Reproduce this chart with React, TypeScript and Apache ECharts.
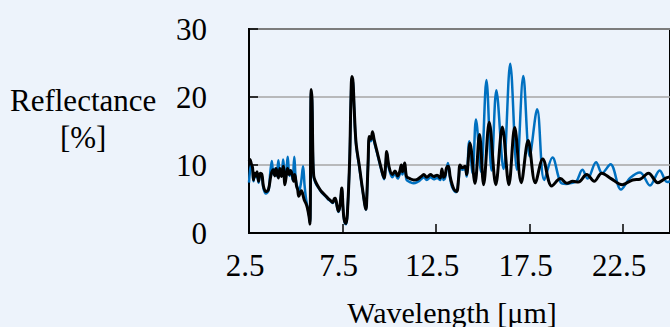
import React, { useEffect, useRef } from "react";
import * as echarts from "echarts";

// Wavelength [µm] vs reflectance [%]
const blackSpectrum: [number, number][] = [
  [2.5, 10.6], [2.55, 10.8], [2.62, 10.2], [2.69, 9.6], [2.74, 7.8], [2.8, 8.8], [2.87, 8.4], [2.93, 9.0],
  [3.01, 7.6], [3.1, 8.8], [3.19, 8.6], [3.27, 6.9], [3.4, 6.1], [3.54, 6.4], [3.68, 8.6], [3.8, 9.3],
  [3.88, 8.4], [3.95, 9.5], [4.07, 8.1], [4.15, 9.5], [4.24, 8.3], [4.33, 9.8], [4.42, 7.1], [4.5, 8.6],
  [4.56, 9.5], [4.65, 8.6], [4.72, 9.2], [4.8, 8.7], [4.89, 7.6], [4.95, 8.6], [5.04, 6.9], [5.1, 6.4],
  [5.16, 5.4], [5.3, 6.2], [5.45, 4.9], [5.55, 4.3], [5.62, 3.7], [5.71, 2.4], [5.76, 1.3], [5.82, 21.1],
  [5.87, 19.5], [5.91, 12], [5.96, 8.4], [6.05, 7.6], [6.2, 6.8], [6.37, 6.1], [6.55, 5.6], [6.72, 5.1],
  [6.85, 4.8], [6.98, 4.5], [7.05, 5.0], [7.11, 5.1], [7.21, 3.9], [7.28, 3.2], [7.36, 4.0], [7.46, 6.6],
  [7.52, 4.0], [7.56, 2.5], [7.62, 1.6], [7.69, 1.4], [7.76, 3.0], [7.88, 10.8], [7.95, 20], [8.0, 23],
  [8.06, 22.2], [8.12, 18.5], [8.22, 13.3], [8.4, 9.8], [8.57, 6.4], [8.75, 3.5], [8.8, 5.5], [8.87, 10.8],
  [8.93, 14.2], [9.02, 13.8], [9.1, 14.9], [9.19, 13.7], [9.36, 11.8], [9.54, 9.8], [9.72, 8.1], [9.8, 10],
  [9.86, 12.0], [9.98, 9.8], [10.16, 8.6], [10.3, 9.1], [10.45, 8.4], [10.55, 9.0], [10.64, 10.0], [10.7, 9.0],
  [10.82, 10.3], [10.92, 8.3], [11.1, 8.0], [11.3, 7.8], [11.5, 7.9], [11.7, 8.3], [11.84, 8.6], [12.0, 8.2],
  [12.2, 8.6], [12.37, 8.3], [12.55, 8.5], [12.72, 8.1], [12.81, 9.4], [12.9, 8.2], [12.98, 8.5], [13.06, 9.6],
  [13.16, 9.8], [13.25, 8.3], [13.35, 7.2], [13.46, 6.4], [13.6, 6.1], [13.7, 8.0], [13.78, 10.0], [13.9, 9.6],
  [14.05, 9.8], [14.13, 8.6], [14.31, 13.2], [14.58, 7.3], [14.82, 14.5], [15.04, 7.1], [15.34, 16.3],
  [15.69, 7.1], [16.04, 15.6], [16.39, 7.1], [16.7, 15.5], [17.05, 7.4], [17.42, 13.6], [17.8, 7.4],
  [18.2, 10.9], [18.68, 6.9], [19.15, 8.0], [19.5, 7.3], [19.8, 7.6], [20.1, 7.5], [20.55, 8.6], [20.95, 7.6],
  [21.35, 8.8], [21.85, 8.0], [22.45, 7.1], [23.0, 7.8], [23.4, 7.9], [23.85, 8.8], [24.35, 7.4], [24.8, 8.1],
  [25.2, 8.4],
];

const blueSpectrum: [number, number][] = [
  [2.5, 7.4], [2.55, 9.0], [2.62, 10.0], [2.69, 9.4], [2.74, 7.6], [2.8, 8.5], [2.87, 8.2], [2.93, 8.8],
  [3.01, 7.4], [3.1, 8.5], [3.19, 8.3], [3.27, 6.6], [3.4, 5.8], [3.54, 6.2], [3.64, 9.0], [3.72, 10.6],
  [3.8, 8.6], [3.9, 9.5], [3.98, 8.4], [4.07, 10.7], [4.15, 8.6], [4.25, 9.0], [4.33, 10.8], [4.42, 8.0],
  [4.5, 9.2], [4.57, 11.2], [4.66, 8.4], [4.75, 9.0], [4.83, 7.8], [4.92, 11.2], [5.0, 7.8], [5.08, 6.8],
  [5.16, 6.0], [5.28, 7.4], [5.39, 9.8], [5.47, 7.0], [5.55, 5.0], [5.62, 3.9], [5.71, 2.6], [5.76, 1.5],
  [5.82, 20.8], [5.87, 19.2], [5.91, 11.8], [5.96, 8.2], [6.05, 7.4], [6.2, 6.7], [6.37, 6.0], [6.55, 5.5],
  [6.72, 5.0], [6.85, 4.7], [6.98, 4.4], [7.05, 4.9], [7.11, 5.0], [7.21, 3.8], [7.28, 3.1], [7.36, 3.9],
  [7.46, 6.5], [7.52, 3.9], [7.56, 2.4], [7.62, 1.5], [7.69, 1.3], [7.76, 2.9], [7.88, 10.6], [7.95, 19.8],
  [8.0, 22.8], [8.06, 22.0], [8.12, 18.3], [8.22, 13.1], [8.4, 9.6], [8.57, 6.3], [8.75, 3.4], [8.8, 5.4],
  [8.87, 10.6], [8.93, 13.9], [9.02, 13.5], [9.1, 14.6], [9.19, 13.4], [9.36, 11.6], [9.54, 9.6], [9.72, 7.9],
  [9.8, 9.8], [9.86, 11.8], [9.98, 9.5], [10.16, 8.2], [10.3, 8.7], [10.45, 8.0], [10.55, 8.6], [10.64, 9.6],
  [10.7, 8.6], [10.82, 9.8], [10.92, 7.8], [11.1, 7.5], [11.3, 7.3], [11.5, 7.5], [11.7, 7.9], [11.84, 8.2],
  [12.0, 7.8], [12.2, 8.2], [12.37, 7.9], [12.55, 8.1], [12.72, 7.8], [12.81, 8.9], [12.9, 7.8], [12.98, 8.1],
  [13.13, 10.3], [13.25, 8.0], [13.35, 6.8], [13.57, 6.0], [13.7, 7.8], [13.78, 9.6], [13.9, 9.3], [14.05, 9.4],
  [14.13, 8.3], [14.27, 13.5], [14.45, 8.8], [14.63, 16.7], [14.9, 9.0], [15.19, 22.5], [15.46, 9.2],
  [15.72, 21.0], [16.1, 9.4], [16.46, 24.9], [16.82, 9.3], [17.16, 23.1], [17.5, 11.3], [17.9, 18.2],
  [18.28, 7.8], [18.72, 11.1], [19.16, 7.4], [19.45, 7.2], [19.78, 7.4], [20.0, 7.6], [20.32, 9.3], [20.6, 8.0],
  [21.05, 10.4], [21.37, 8.8], [21.82, 10.1], [22.38, 6.4], [22.87, 8.1], [23.4, 8.9], [23.93, 7.0],
  [24.45, 9.2], [24.85, 7.5], [25.2, 7.8],
];

const xMin = 2.5;
const xMax = 25;
const xStep = 5;
const yMin = 0;
const yMax = 30;
const yStep = 10;

const yTitleLines = ["Reflectance", "[%]"];
const xTitle = "Wavelength [μm]";

const BG = "#edf3fb";
const FONT = "'Liberation Serif', 'Times New Roman', serif";

export default function App() {
  const ref = useRef<HTMLDivElement>(null);

  useEffect(() => {
    if (!ref.current) return;
    const chart = echarts.init(ref.current, null, { renderer: "svg" });
    chart.setOption({
      animation: false,
      backgroundColor: BG,
      grid: {
        left: 249,
        top: 29,
        width: 424,
        height: 204,
        show: true,
        borderColor: "#000",
        borderWidth: 2,
        backgroundColor: BG,
      },
      xAxis: {
        type: "value",
        min: xMin,
        max: xMax,
        interval: xStep,
        axisLine: { show: true, lineStyle: { color: "#000", width: 2 } },
        axisTick: { show: true, inside: true, length: 9, lineStyle: { color: "#000", width: 1.5 } },
        splitLine: { show: false },
        axisLabel: {
          color: "#000",
          fontFamily: FONT,
          fontSize: 31,
          margin: 17,
          padding: [0, 8, 0, 0],
          showMaxLabel: false,
        },
      },
      yAxis: {
        type: "value",
        min: yMin,
        max: yMax,
        interval: yStep,
        axisLine: { show: true, lineStyle: { color: "#000", width: 2 } },
        axisTick: { show: true, inside: true, length: 9, lineStyle: { color: "#000", width: 1.5 } },
        splitLine: { show: true, lineStyle: { color: "#a6a6a6", width: 1.5 } },
        axisLabel: {
          color: "#000",
          fontFamily: FONT,
          fontSize: 31,
          margin: 42,
        },
      },
      graphic: [
        {
          type: "text",
          left: 10,
          top: 82,
          style: {
            text: yTitleLines.join("\n"),
            font: `31px ${FONT}`,
            fill: "#000",
            lineHeight: 37,
            textAlign: "center",
          },
        },
        {
          type: "text",
          x: 452,
          y: 312,
          style: {
            text: xTitle,
            font: `30px ${FONT}`,
            fill: "#000",
            textAlign: "center",
            textVerticalAlign: "middle",
          },
        },
      ],
      series: [
        {
          name: "Blue",
          type: "line",
          data: blueSpectrum,
          showSymbol: false,
          smooth: 0.35,
          clip: true,
          lineStyle: { color: "#0070c0", width: 2.5 },
          z: 2,
        },
        {
          name: "Black",
          type: "line",
          data: blackSpectrum,
          showSymbol: false,
          smooth: 0.35,
          clip: true,
          lineStyle: { color: "#000", width: 3 },
          z: 3,
        },
      ],
    });
    return () => chart.dispose();
  }, []);

  return (
    <div
      ref={ref}
      style={{ position: "fixed", left: 0, top: 0, width: 670, height: 327, background: BG }}
    />
  );
}
